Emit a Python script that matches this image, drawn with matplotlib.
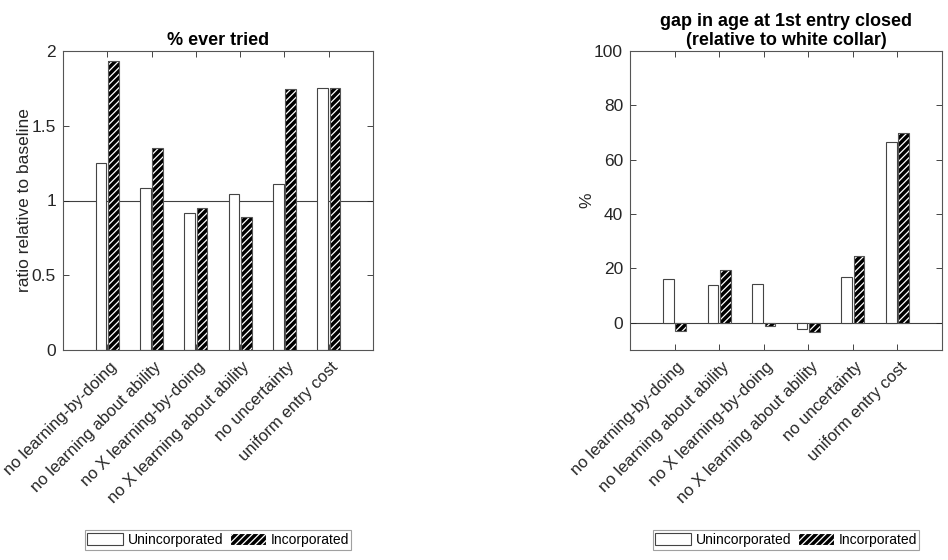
import matplotlib
matplotlib.use("Agg")
import matplotlib.pyplot as plt
import numpy as np
from matplotlib.patches import Patch

plt.rcParams['font.family'] = ['Liberation Sans', 'DejaVu Sans']
plt.rcParams['hatch.color'] = 'white'
plt.rcParams['hatch.linewidth'] = 0.9

categories = ["no learning-by-doing", "no learning about ability", "no X learning-by-doing",
              "no X learning about ability", "no uncertainty", "uniform entry cost"]
tried_unincorp = [1.25, 1.086, 0.914, 1.041, 1.110, 1.750]
tried_incorp = [1.933, 1.349, 0.952, 0.892, 1.746, 1.750]
gap_unincorp = [16.2, 13.8, 14.1, -2.4, 17.0, 66.5]
gap_incorp = [-3.1, 19.5, -1.0, -3.3, 24.4, 69.8]
series_names = ["Unincorporated", "Incorporated"]

fig = plt.figure(figsize=(9.48, 5.6), dpi=100)
ax1 = fig.add_axes([63/948, 1-350/560, 310/948, 299/560])
ax2 = fig.add_axes([630/948, 1-350/560, 312/948, 299/560])

axcol = '#262626'
hatch = '/////'
w = 0.24
off = 0.14

def draw(ax, unin, inc, ylim, yticks, title, ylabel, refline, ylabel_x):
    x = np.arange(1, len(categories) + 1)
    ax.axhline(refline, color='#404040', lw=0.8, zorder=1)
    ax.bar(x - off, unin, width=w, facecolor='white', edgecolor='#444444', lw=0.8, zorder=2)
    ax.bar(x + off, inc, width=w, facecolor='black', hatch=hatch, lw=0, zorder=2)
    ax.bar(x + off, inc, width=w, fill=False, edgecolor='#555555', lw=0.8, zorder=3)
    ax.set_xlim(0, 7)
    ax.set_ylim(*ylim)
    ax.set_yticks(yticks)
    ax.set_xticks(x)
    ax.set_xticklabels([])
    for xi, cat in zip(x, categories):
        ax.annotate(cat, xy=(xi, 0), xycoords=('data', 'axes fraction'),
                    xytext=(2, -9), textcoords='offset pixels',
                    rotation=45, ha='right', va='top', rotation_mode='anchor',
                    fontsize=12, color=axcol, annotation_clip=False)
    ax.tick_params(direction='in', top=True, right=True, labelsize=12.5, colors=axcol, length=4, width=0.6)
    ax.tick_params(axis='y', pad=5)
    for s in ax.spines.values():
        s.set_color('#555555')
        s.set_linewidth(0.8)
    ax.set_title(title, fontsize=13, fontweight='bold', pad=4, linespacing=1.15)
    ax.set_ylabel(ylabel, fontsize=12.5, color=axcol)
    ax.yaxis.set_label_coords(ylabel_x, 0.5)
    handles = [Patch(facecolor='white', edgecolor='#444444', lw=0.8),
               Patch(facecolor='black', edgecolor='white', hatch=hatch, lw=0.8)]
    leg = ax.legend(handles, series_names, ncol=2, loc='center', bbox_to_anchor=(0.5, -0.635),
                    frameon=True, fancybox=False, edgecolor='#888888', fontsize=10,
                    handlelength=2.6, handleheight=0.9, handletextpad=0.3, columnspacing=0.5,
                    borderpad=0.2, borderaxespad=0)
    leg.get_frame().set_linewidth(0.8)

draw(ax1, tried_unincorp, tried_incorp, (0, 2), [0, 0.5, 1, 1.5, 2], "% ever tried",
     "ratio relative to baseline", 1, -0.10)
ax1.set_yticklabels(['0', '0.5', '1', '1.5', '2'])
draw(ax2, gap_unincorp, gap_incorp, (-10, 100), [0, 20, 40, 60, 80, 100],
     "gap in age at 1st entry closed\n(relative to white collar)", "%", 0, -0.115)

fig.savefig("out.png", dpi=100)
